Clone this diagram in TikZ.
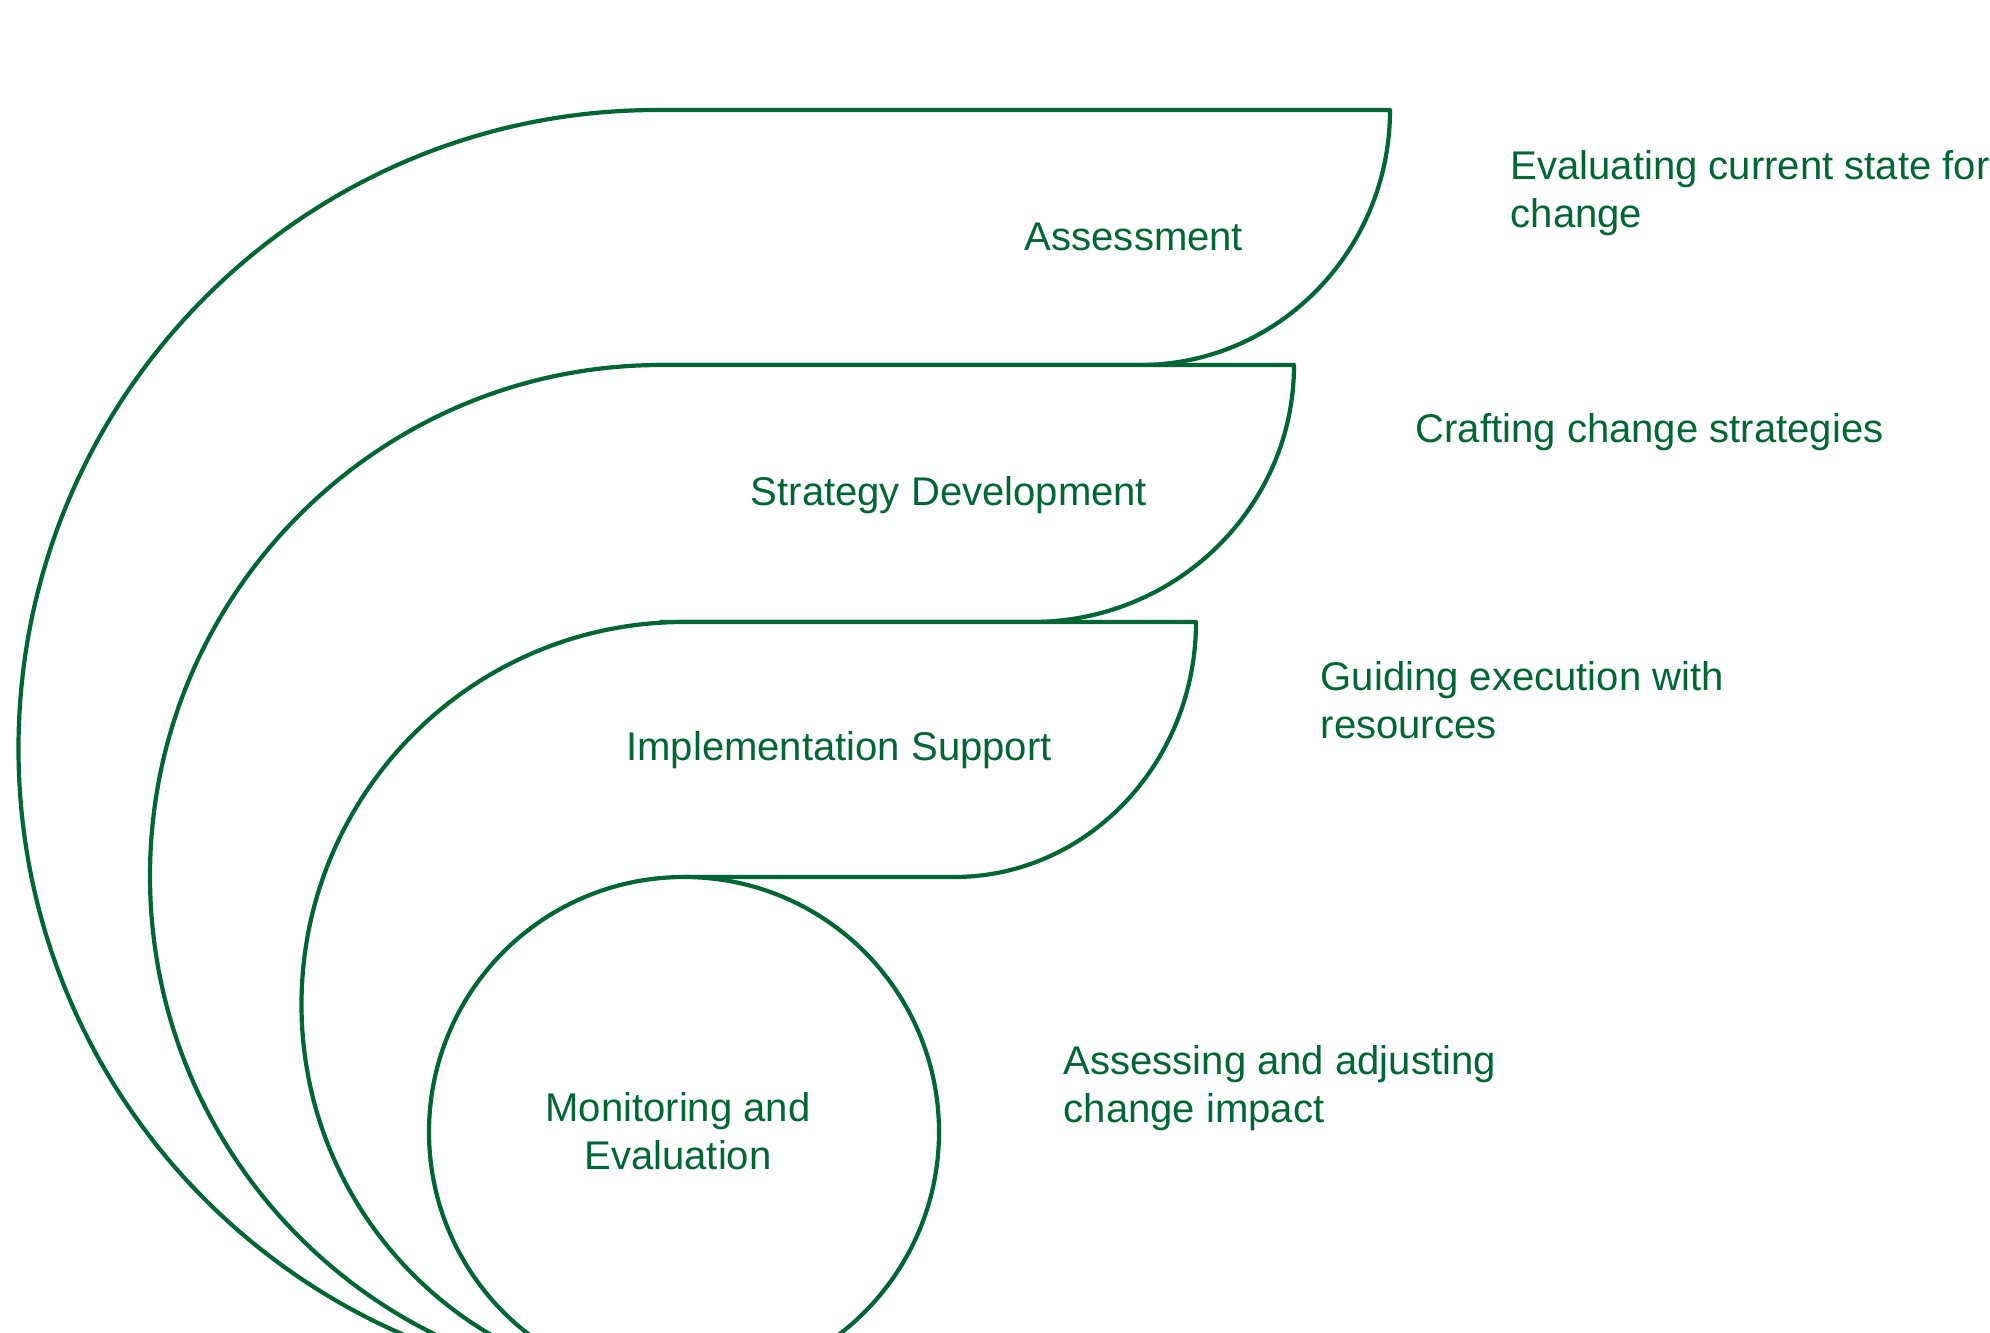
\documentclass[tikz,border=0pt]{standalone}
\usepackage{fontspec}
\setmainfont{Liberation Sans}
\definecolor{leaf}{HTML}{006633}
\begin{document}
\begin{tikzpicture}[x=0.1mm,y=-0.1mm,
  stage/.style={draw=leaf,fill=white,line width=0.42mm,line join=round},
  lbl/.style={text=leaf,inner sep=0pt,font=\fontsize{11.4}{13.6}\selectfont},
  note/.style={lbl,anchor=west,align=left}]
\useasboundingbox (0,0) rectangle (1990,1333);
\clip (0,0) rectangle (1990,1333);
%Tang 1
\filldraw[stage] (657,1387) arc[start angle=90,end angle=270,radius=638.5] -- (1390,110)
  arc[start angle=0,end angle=90,x radius=250,y radius=255] -- (657,365) -- cycle;
%Tang 2
\filldraw[stage] (661,1387) arc[start angle=90,end angle=270,radius=511] -- (1294,365)
  arc[start angle=0,end angle=90,x radius=262,y radius=257] -- (661,622) -- cycle;
%Tang 3
\filldraw[stage] (684,1387) arc[start angle=90,end angle=270,radius=382.5] -- (1196,622)
  arc[start angle=0,end angle=90,x radius=242,y radius=255] -- (684,877) -- cycle;
%Tang 4
\filldraw[stage] (684,1132) circle[radius=255];
%Ten cac tang
\node[lbl] (assess) at (1134,237) {Assessment};
\node[lbl] (strategy) at (949,495) {Strategy Development};
\node[lbl] (impl) at (839,750) {Implementation Support};
\node[lbl,align=center] (monitor) at (678,1131) {Monitoring and\\Evaluation};
%Mo ta
\node[note] (assessnote) at (1510,193) {Evaluating current state for\\change};
\node[note] (strategynote) at (1415,432) {Crafting change strategies};
\node[note] (implnote) at (1320,700) {Guiding execution with\\resources};
\node[note] (monitornote) at (1063,1088) {Assessing and adjusting\\change impact};
\end{tikzpicture}
\end{document}
